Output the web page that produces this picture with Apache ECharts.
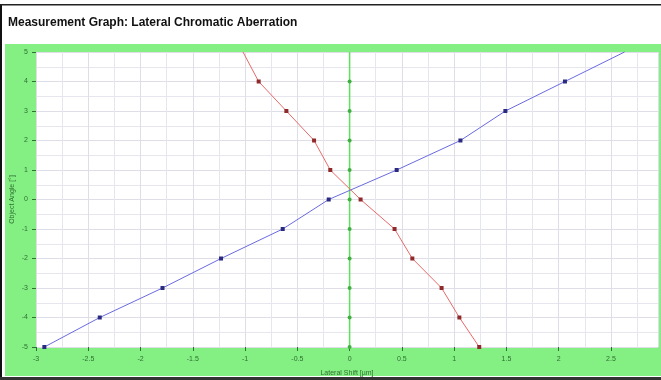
<!DOCTYPE html>
<html>
<head>
<meta charset="utf-8">
<script src="https://cdn.jsdelivr.net/npm/echarts@6/dist/echarts.min.js"></script>
<style>
  html, body { margin: 0; padding: 0; background: #fff; }
  #chart { width: 661px; height: 380px; }
</style>
</head>
<body>
<div id="chart"></div>
<script>
// Object angle steps (degrees)
const objectAngles = [5, 4, 3, 2, 1, 0, -1, -2, -3, -4, -5];
// Lateral shift per angle (µm)
const shiftBlue = [2.63, 2.06, 1.49, 1.06, 0.45, -0.20, -0.64, -1.23, -1.79, -2.39, -2.92];
const shiftRed  = [-1.02, -0.87, -0.605, -0.34, -0.185, 0.105, 0.43, 0.60, 0.88, 1.05, 1.24];
const shiftGreen = [0, 0, 0, 0, 0, 0, 0, 0, 0, 0, 0];

const xTickLabels = ['-3', '-2.5', '-2', '-1.5', '-1', '-0.5', '0', '0.5', '1', '1.5', '2', '2.5'];

const labelGreen = '#2f6f2f';
const bandGreen = '#84f084';

function pairs(xs) {
  return xs.map((x, i) => [x, objectAngles[i]]);
}
// markers at the upper edge stay hidden behind the frame band
const edgeSymbol = (v) => (v[1] >= 5 ? 0 : 4);

const chart = echarts.init(document.getElementById('chart'), null, { renderer: 'canvas' });

chart.setOption({
  animation: false,
  backgroundColor: '#ffffff',
  title: {
    text: 'Measurement Graph: Lateral Chromatic Aberration',
    left: 3, top: 12,
    textStyle: { fontFamily: 'Liberation Sans, Arial, sans-serif', fontSize: 12, fontWeight: 'bold', color: '#111' }
  },
  graphic: [
    { type: 'rect', z: -10, shape: { x: 5, y: 44, width: 656, height: 332 }, style: { fill: bandGreen } },
    { type: 'rect', z: 100, shape: { x: 0, y: 4, width: 2, height: 376 }, style: { fill: '#111' } },
    { type: 'rect', z: 100, shape: { x: 0, y: 4, width: 661, height: 1.5 }, style: { fill: '#222' } },
    { type: 'rect', z: 100, shape: { x: 0, y: 377, width: 661, height: 3 }, style: { fill: '#333' } }
  ],
  grid: {
    left: 36, right: 3, top: 52, bottom: 33,
    outerBoundsMode: 'none', containLabel: false,
    show: true, backgroundColor: '#ffffff', borderWidth: 0
  },
  xAxis: {
    type: 'value',
    min: -3, max: 2.95, interval: 0.5,
    name: 'Lateral Shift [µm]',
    nameLocation: 'middle', nameGap: 23, nameMoveOverlap: false,
    nameTextStyle: { fontFamily: 'Liberation Sans, Arial, sans-serif', fontSize: 7, color: labelGreen },
    axisLine: { show: false, onZero: false },
    axisTick: { show: true, length: 4, lineStyle: { color: labelGreen } },
    axisLabel: {
      fontFamily: 'Liberation Sans, Arial, sans-serif', fontSize: 7, color: labelGreen, margin: 9,
      showMaxLabel: false,
      formatter: (v) => { const s = String(Math.round(v * 10) / 10); return xTickLabels.includes(s) ? s : ''; }
    },
    splitLine: { show: true, lineStyle: { color: '#dedde8', width: 1 } },
    minorTick: { show: false, splitNumber: 2 },
    minorSplitLine: { show: true, lineStyle: { color: '#e6e6ee', width: 1 } }
  },
  yAxis: {
    type: 'value',
    min: -5, max: 5, interval: 1,
    name: 'Object Angle [°]',
    nameLocation: 'middle', nameGap: 20, nameRotate: 90, nameMoveOverlap: false,
    nameTextStyle: { fontFamily: 'Liberation Sans, Arial, sans-serif', fontSize: 7, color: labelGreen },
    axisLine: { show: false, onZero: false },
    axisTick: { show: true, length: 4, lineStyle: { color: labelGreen } },
    axisLabel: { fontFamily: 'Liberation Sans, Arial, sans-serif', fontSize: 7, color: labelGreen, margin: 8 },
    splitLine: { show: true, lineStyle: { color: '#dedde8', width: 1 } },
    minorTick: { show: false, splitNumber: 2 },
    minorSplitLine: { show: true, lineStyle: { color: '#e6e6ee', width: 1 } }
  },
  series: [
    {
      type: 'line', data: pairs(shiftGreen), clip: false,
      symbol: 'circle', symbolSize: edgeSymbol,
      lineStyle: { color: '#5fe05f', width: 1.5 },
      itemStyle: { color: '#3fb03f' },
      z: 2
    },
    {
      type: 'line', data: pairs(shiftBlue), clip: false,
      symbol: 'rect', symbolSize: edgeSymbol,
      lineStyle: { color: '#6a6ae0', width: 1 },
      itemStyle: { color: '#2a2a80' },
      z: 3
    },
    {
      type: 'line', data: pairs(shiftRed), clip: false,
      symbol: 'rect', symbolSize: edgeSymbol,
      lineStyle: { color: '#e86a6a', width: 1 },
      itemStyle: { color: '#902a2a' },
      z: 3
    }
  ]
});
</script>
</body>
</html>
